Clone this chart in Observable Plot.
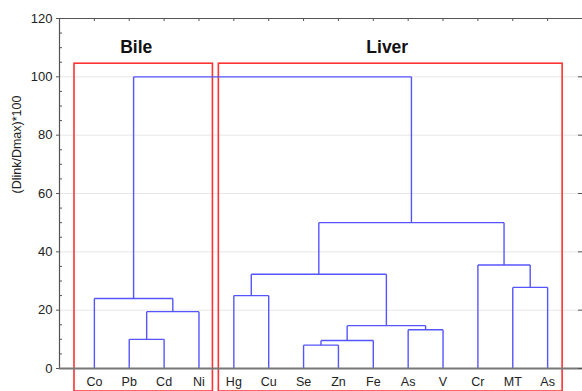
<!DOCTYPE html>
<html>
<head>
<meta charset="utf-8">
<script src="https://cdn.jsdelivr.net/npm/d3@7"></script>
<script src="https://cdn.jsdelivr.net/npm/@observablehq/plot@0.6"></script>
<style>
  html, body { margin: 0; padding: 0; background: #fff; }
  #chart { width: 582px; height: 391px; overflow: hidden; }
  svg { font-family: "Liberation Sans", Arial, sans-serif; }
</style>
</head>
<body>
<div id="chart"></div>
<script>
// Leaves of the dendrogram (left to right)
const leaves = ["Co", "Pb", "Cd", "Ni", "Hg", "Cu", "Se", "Zn", "Fe", "As", "V", "Cr", "MT", "As"];
// Merges: [left node, right node, linkage distance (Dlink/Dmax)*100]; new node ids start at leaves.length
const mergeLeft  = [1, 14, 0, 4, 6, 18, 9, 19, 17, 12, 11, 22, 16];
const mergeRight = [2, 3, 15, 5, 7, 8, 10, 20, 21, 13, 23, 24, 25];
const mergeDist  = [10, 19.5, 24, 25, 8, 9.6, 13.3, 14.7, 32.3, 27.8, 35.5, 50, 100];
// Group boxes
const groupNames = ["Bile", "Liver"];
const groupFrom = [-0.57, 3.57];
const groupTo = [3.4, 13.43];
const groupTop = [104.5, 104.5];
const groupBottom = [-7.9, -7.9];
const groupLabelX = [1.2, 8.4];
const groupLabelY = [110, 110];
const yTicks = [0, 20, 40, 60, 80, 100, 120];
const yMinor = d3.range(0, 121, 5).filter(v => v % 20 !== 0);

// Build node positions and link segments
const nodeX = leaves.map((_, i) => i);
const nodeY = leaves.map(() => 0);
const segs = [];
mergeLeft.forEach((l, k) => {
  const r = mergeRight[k], h = mergeDist[k];
  segs.push({x1: nodeX[l], y1: nodeY[l], x2: nodeX[l], y2: h});
  segs.push({x1: nodeX[r], y1: nodeY[r], x2: nodeX[r], y2: h});
  segs.push({x1: nodeX[l], y1: h, x2: nodeX[r], y2: h});
  nodeX.push((nodeX[l] + nodeX[r]) / 2);
  nodeY.push(h);
});
const groups = groupNames.map((name, i) => ({
  name, x1: groupFrom[i], x2: groupTo[i], y1: groupBottom[i], y2: groupTop[i],
  lx: groupLabelX[i], ly: groupLabelY[i]
}));
const leafIdx = leaves.map((_, i) => i);

const blue = "#5555ff";
const red = "#ff3333";
const axisColor = "#555";

const chart = Plot.plot({
  width: 582,
  height: 391,
  marginLeft: 59,
  marginRight: 0,
  marginTop: 18,
  marginBottom: 23,
  style: {fontFamily: "'Liberation Sans', Arial, sans-serif", fontSize: "12.5px", color: "#222", background: "#fff", overflow: "visible"},
  x: {domain: [-1, 14]},
  y: {domain: [0, 120]},
  marks: [
    Plot.gridY(yTicks.filter(v => v > 0), {stroke: "#e6e6e6", strokeOpacity: 1}),
    Plot.rect(groups, {x1: "x1", x2: "x2", y1: "y1", y2: "y2", fill: "none", stroke: red, strokeWidth: 1.6, clip: false}),
    Plot.link(segs, {x1: "x1", y1: "y1", x2: "x2", y2: "y2", stroke: blue, strokeWidth: 1.4}),
    Plot.ruleY([120], {stroke: axisColor, strokeWidth: 1.2}),
    Plot.ruleX([-1], {stroke: axisColor, strokeWidth: 1.2}),
    Plot.ruleY([0], {stroke: "#777", strokeWidth: 2.2}),
    Plot.tickY(yMinor, {y: d => d, stroke: axisColor, insetRight: 520}),
    Plot.tickY(yTicks, {y: d => d, stroke: axisColor, insetLeft: 519, insetRight: -1}),
    Plot.tickX(leafIdx, {x: d => d, stroke: axisColor, insetBottom: 347}),
    Plot.axisY({ticks: yTicks, tickSize: 3, tickPadding: 4, stroke: axisColor, label: null, fontSize: 13}),
    Plot.axisX({ticks: leafIdx, tickFormat: i => leaves[i], tickSize: 0, tickPadding: 9, label: null, fontSize: 12.5}),
    Plot.text(["(Dlink/Dmax)*100"], {frameAnchor: "left", dx: -43, rotate: -90, fontSize: 12.5, fill: "#222", text: d => d}),
    Plot.text(groups, {x: "lx", y: "ly", text: "name", fontSize: 17.5, fontWeight: "bold", fill: "#111"})
  ]
});
document.getElementById("chart").appendChild(chart);
</script>
</body>
</html>
